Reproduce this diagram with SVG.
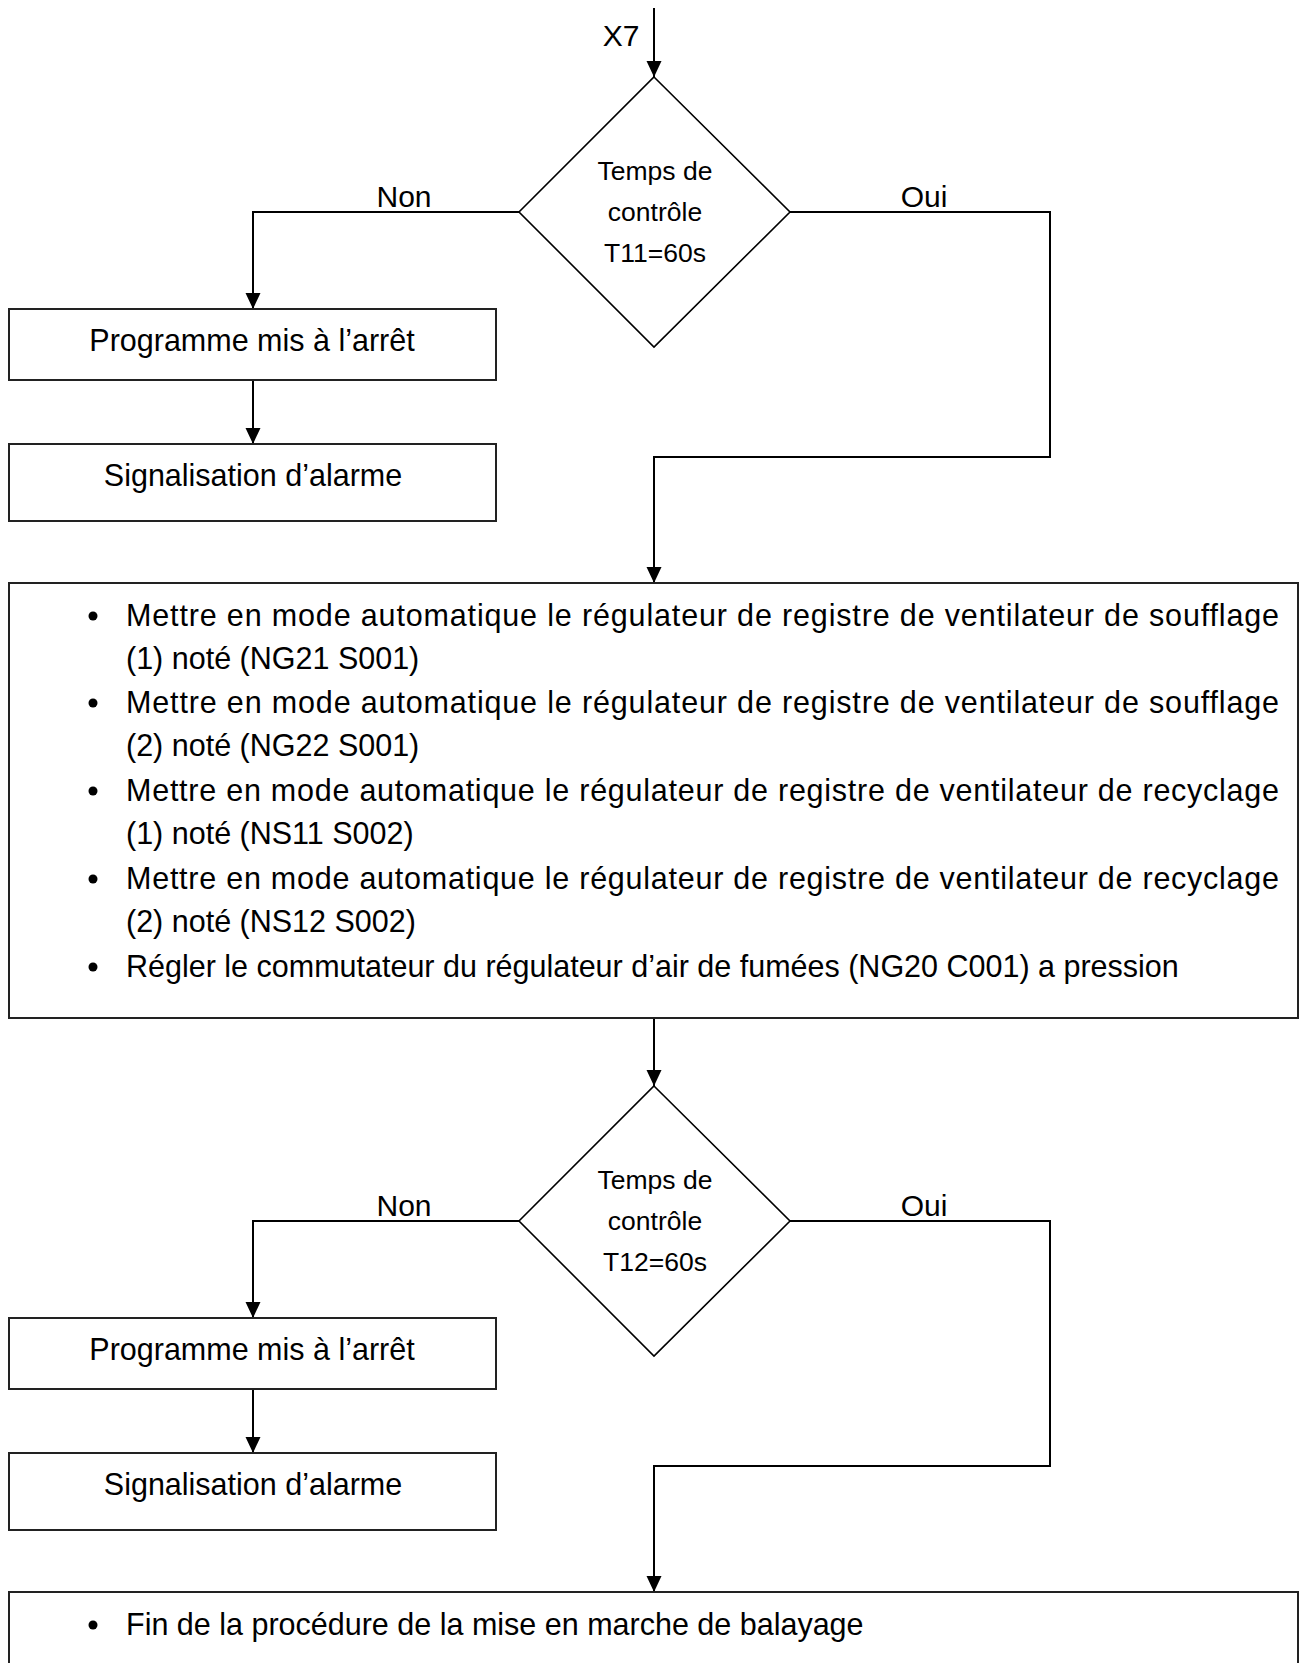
<svg xmlns="http://www.w3.org/2000/svg" width="1300" height="1663" viewBox="0 0 1300 1663">
  <style>
    .box { fill: #fff; stroke: #222; stroke-width: 2; }
    .dia { fill: #fff; stroke: #000; stroke-width: 1.6; }
    .conn { fill: none; stroke: #000; stroke-width: 2; }
    text { font-family: "Liberation Sans", Arial, sans-serif; fill: #000; }
    .bt { font-size: 30.5px; }
    .ct { font-size: 30.5px; text-anchor: middle; }
    .dt { font-size: 26.5px; text-anchor: middle; }
    .lbl { font-size: 30px; text-anchor: middle; }
  </style>
  <defs>
    <marker id="arr" markerUnits="userSpaceOnUse" markerWidth="16" markerHeight="16" refX="16" refY="8" orient="auto">
      <path d="M0,0.5 L16,8 L0,15.5 z" fill="#000"/>
    </marker>
  </defs>
  <rect width="1300" height="1663" fill="#fff"/>

  <g id="connectors">
    <path class="conn" d="M654,8 V77" marker-end="url(#arr)"/>
    <path class="conn" d="M519,212 H253 V309" marker-end="url(#arr)"/>
    <path class="conn" d="M253,380 V444" marker-end="url(#arr)"/>
    <path class="conn" d="M790,212 H1050 V457 H654 V583" marker-end="url(#arr)"/>
    <path class="conn" d="M654,1018 V1086" marker-end="url(#arr)"/>
    <path class="conn" d="M519,1221 H253 V1318" marker-end="url(#arr)"/>
    <path class="conn" d="M253,1389 V1453" marker-end="url(#arr)"/>
    <path class="conn" d="M790,1221 H1050 V1466 H654 V1592" marker-end="url(#arr)"/>
    <text class="lbl" x="621" y="46">X7</text>
    <text class="lbl" x="404" y="207">Non</text>
    <text class="lbl" x="924" y="207">Oui</text>
    <text class="lbl" x="404" y="1216">Non</text>
    <text class="lbl" x="924" y="1216">Oui</text>
  </g>

  <g id="decision1">
    <polygon class="dia" points="654,77 790,212 654,347 519,212"/>
    <text class="dt" x="655" y="180">Temps de</text>
    <text class="dt" x="655" y="221">contrôle</text>
    <text class="dt" x="655" y="262">T11=60s</text>
  </g>

  <g id="stop1">
    <rect class="box" x="9" y="309" width="487" height="71"/>
    <text class="ct" x="252" y="351">Programme mis à l’arrêt</text>
  </g>

  <g id="alarm1">
    <rect class="box" x="9" y="444" width="487" height="77"/>
    <text class="ct" x="253" y="486">Signalisation d’alarme</text>
  </g>

  <g id="actions">
    <rect class="box" x="9" y="583" width="1289" height="435"/>
    <circle cx="93" cy="616" r="4.5"/>
    <text class="bt" x="126" y="626" textLength="1153" lengthAdjust="spacing">Mettre en mode automatique le régulateur de registre de ventilateur de soufflage</text>
    <text class="bt" x="126" y="669">(1) noté (NG21 S001)</text>
    <circle cx="93" cy="703" r="4.5"/>
    <text class="bt" x="126" y="713" textLength="1153" lengthAdjust="spacing">Mettre en mode automatique le régulateur de registre de ventilateur de soufflage</text>
    <text class="bt" x="126" y="756">(2) noté (NG22 S001)</text>
    <circle cx="93" cy="791" r="4.5"/>
    <text class="bt" x="126" y="801" textLength="1153" lengthAdjust="spacing">Mettre en mode automatique le régulateur de registre de ventilateur de recyclage</text>
    <text class="bt" x="126" y="844">(1) noté (NS11 S002)</text>
    <circle cx="93" cy="879" r="4.5"/>
    <text class="bt" x="126" y="889" textLength="1153" lengthAdjust="spacing">Mettre en mode automatique le régulateur de registre de ventilateur de recyclage</text>
    <text class="bt" x="126" y="932">(2) noté (NS12 S002)</text>
    <circle cx="93" cy="967" r="4.5"/>
    <text class="bt" x="126" y="977">Régler le commutateur du régulateur d’air de fumées (NG20 C001) a pression</text>
  </g>

  <g id="decision2">
    <polygon class="dia" points="654,1086 790,1221 654,1356 519,1221"/>
    <text class="dt" x="655" y="1189">Temps de</text>
    <text class="dt" x="655" y="1230">contrôle</text>
    <text class="dt" x="655" y="1271">T12=60s</text>
  </g>

  <g id="stop2">
    <rect class="box" x="9" y="1318" width="487" height="71"/>
    <text class="ct" x="252" y="1360">Programme mis à l’arrêt</text>
  </g>

  <g id="alarm2">
    <rect class="box" x="9" y="1453" width="487" height="77"/>
    <text class="ct" x="253" y="1495">Signalisation d’alarme</text>
  </g>

  <g id="end">
    <rect class="box" x="9" y="1592" width="1289" height="120"/>
    <circle cx="93" cy="1625" r="4.5"/>
    <text class="bt" x="126" y="1635">Fin de la procédure de la mise en marche de balayage</text>
  </g>
</svg>
